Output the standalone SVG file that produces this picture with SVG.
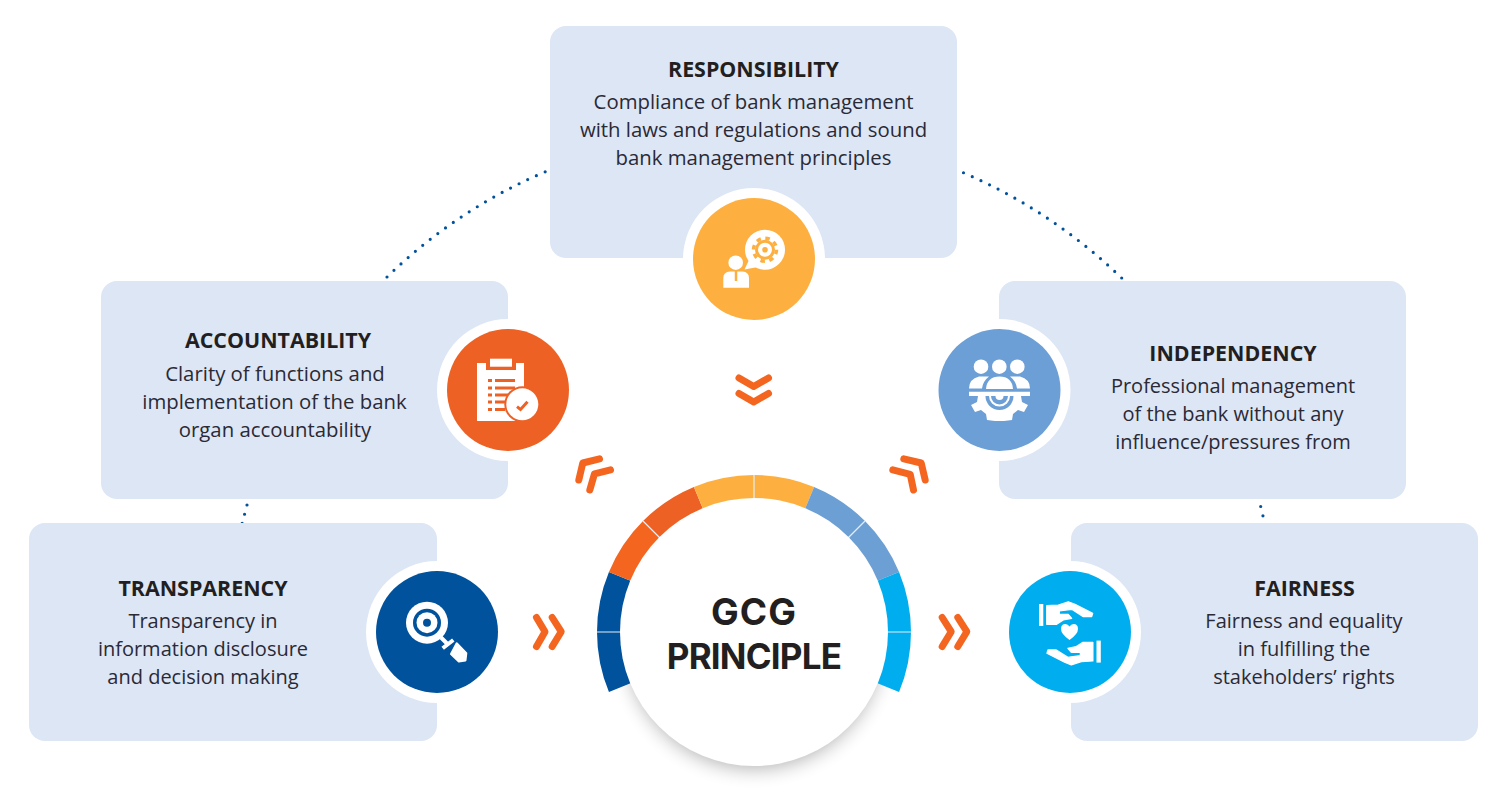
<svg xmlns="http://www.w3.org/2000/svg" width="1500" height="793" viewBox="0 0 1500 793">
<style>
.box{fill:#dde6f5}
.ring{fill:#fff}
.t{font-family:"Open Sans","Noto Sans",sans-serif;font-size:20px;fill:#2a2a36;text-anchor:middle}
.w2{font-size:20.35px}
.h{font-family:"Open Sans","Noto Sans",sans-serif;font-size:21.4px;font-weight:700;fill:#231f20;text-anchor:middle}
.g{font-family:Inter,"Liberation Sans",sans-serif;font-weight:700;fill:#231f20;text-anchor:middle}
.seg{fill:none;stroke-width:24}
.seam{stroke:#e6eef6;stroke-width:1.2}
.dots{fill:none;stroke:#00529c;stroke-width:3.2;stroke-linecap:round;stroke-dasharray:0 9.55}
.chev{fill:none;stroke:#f4661f;stroke-width:7;stroke-linecap:round;stroke-linejoin:round}
.w{fill:#fff}
</style>
<defs>
<filter id="sh" x="-30%" y="-30%" width="160%" height="160%"><feGaussianBlur stdDeviation="10"/></filter>
<polygon id="hand" points="1046.7,605.7 1058.3,605 1068.3,601.7 1075,604.3 1092.7,613.3 1091.7,616.7 1083.3,616.7 1071.7,609.3 1059.3,611 1059.3,614.3 1068.3,614.3 1071.7,618.3 1063.3,620 1056.7,624.3 1046.7,624.3" fill="#fff" stroke="#fff" stroke-width="1.2" stroke-linejoin="round"/>
</defs>

<g id="connectors">
<path class="dots" d="M387 277Q457 209 547 171"/>
<path class="dots" d="M1121.700 278Q1051 210 961.700 172"/>
<path class="dots" d="M247 505L242 524"/>
<path class="dots" d="M1260.700 506.500L1263 516"/>
<path class="chev" d="M739 378L753.700 386.500L768.500 378M739 393.500L753.700 402L768.500 393.500"/>
<path class="chev" d="M578.800 480L582.800 463L599.500 458.800M589.800 490L594.500 473.800L610.500 469.800"/>
<path class="chev" d="M903.800 458.800L921.200 463L925.200 480M892.800 469.800L910.200 474.300L913.500 490"/>
<path class="chev" d="M536.500 617.500L545 631.700L536.500 646.500M552.200 617.500L561.200 631.700L552.200 646.500"/>
<path class="chev" d="M942.200 617.500L951.200 631.700L942.200 646.500M957.800 617.500L966.800 631.700L957.800 646.500"/>
</g>

<g id="center">
<circle cx="754" cy="640" r="128" fill="#000" opacity=".32" filter="url(#sh)"/>
<path class="seg" stroke="#00529c" d="M620.040 687.490A145 145 0 0 1 609 632A145 145 0 0 1 620.040 576.510"/>
<path class="seg" stroke="#f4661f" d="M620.040 576.510A145 145 0 0 1 651.470 529.470"/>
<path class="seg" stroke="#ee6125" d="M651.470 529.470A145 145 0 0 1 698.510 498.040"/>
<path class="seg" stroke="#fdb040" d="M698.510 498.040A145 145 0 0 1 809.490 498.040"/>
<path class="seg" stroke="#6c9fd4" d="M809.490 498.040A145 145 0 0 1 887.960 576.510"/>
<path class="seg" stroke="#00aeef" d="M887.960 576.510A145 145 0 0 1 887.960 687.490"/>
<path class="seam" d="M597 632H621M887 632H911M754 475V499M643 521L660 538M865 521L848 538"/>
<circle cx="754" cy="632" r="134" fill="#fff"/>
<text class="g" x="754" y="625" font-size="37" letter-spacing="1">GCG</text>
<text class="g" x="754" y="669" font-size="35" letter-spacing="-0.8">PRINCIPLE</text>
</g>

<g id="responsibility">
<rect class="box" x="550" y="26" width="407" height="232" rx="16"/>
<circle class="ring" cx="754" cy="259" r="71"/>
<circle cx="754" cy="259" r="61" fill="#fdb040"/>
<text class="h" x="753.500" y="77">RESPONSIBILITY</text>
<text class="t w2" x="753.500" y="109">Compliance of bank management</text>
<text class="t w2" x="753.500" y="137">with laws and regulations and sound</text>
<text class="t w2" x="753.500" y="165">bank management principles</text>
<circle class="w" cx="765" cy="249.700" r="20"/>
<polygon class="w" points="750,258 744.500,269.500 758,267"/>
<circle cx="765" cy="249.700" r="11.500" fill="none" stroke="#fdb040" stroke-width="3.500" stroke-dasharray="4.500 4.530"/>
<circle cx="765" cy="249.700" r="8.500" fill="#fff" stroke="#fdb040" stroke-width="3"/>
<circle cx="765" cy="249.700" r="2.800" fill="#fdb040"/>
<circle class="w" cx="735.700" cy="262.700" r="7.300"/>
<path class="w" d="M723.300 287.700V278Q723.300 272 730 271.500H742.500Q749 272 749 278V287.700Z"/>
<path d="M736 271V281" stroke="#fdb040" stroke-width="2.500"/>
</g>

<g id="accountability">
<rect class="box" x="101" y="281" width="407" height="218" rx="16"/>
<circle class="ring" cx="508" cy="390" r="71"/>
<circle cx="508" cy="390" r="61" fill="#ee6125"/>
<text class="h" x="278" y="348">ACCOUNTABILITY</text>
<text class="t w2" x="275" y="381">Clarity of functions and</text>
<text class="t w2" x="274.500" y="409">implementation of the bank</text>
<text class="t w2" x="275" y="437">organ accountability</text>
<rect class="w" x="477" y="363" width="47" height="58"/>
<rect x="486" y="363" width="30" height="7" fill="#ee6125"/>
<rect class="w" x="490" y="358.700" width="22" height="8"/>
<path d="M488 380.500H492M495 380.500H515M488 388H492M495 388H515M488 395H492M495 395H515M488 402H492M495 402H510M488 409.500H492M495 409.500H505" stroke="#ee6125" stroke-width="3" fill="none"/>
<circle cx="522.300" cy="404.300" r="18" fill="#ee6125"/>
<circle class="w" cx="522.300" cy="404.300" r="16"/>
<path d="M517 406.700L520.500 409.500L527.500 401.800" fill="none" stroke="#ee6125" stroke-width="3"/>
</g>

<g id="independency">
<rect class="box" x="999" y="281" width="407" height="218" rx="16"/>
<circle class="ring" cx="999.500" cy="390" r="71"/>
<circle cx="999.500" cy="390" r="61" fill="#6c9fd6"/>
<text class="h" x="1233" y="361">INDEPENDENCY</text>
<text class="t" x="1233" y="393">Professional management</text>
<text class="t" x="1233" y="421">of the bank without any</text>
<text class="t" x="1233" y="449">influence/pressures from</text>
<circle class="w" cx="981" cy="366.700" r="7.300"/>
<circle class="w" cx="999.300" cy="366.700" r="7.300"/>
<circle class="w" cx="1017.300" cy="366.700" r="7.300"/>
<path class="w" d="M969 388.500Q969 379 979 376.500H989Q983 381 982 388.500ZM1030 388.500Q1030 379 1020 376.500H1010Q1016 381 1017 388.500ZM986 389Q987 376.500 999.500 376.500Q1012 376.500 1013 389Z"/>
<path class="w" d="M969 391.700H1030V396H1021L1022 402L1028 405L1024 412L1018 410L1013 414L1012 420L1004 421H995L987 420L986 414L981 410L975 412L971 405L977 402L978 396H969Z"/>
<path d="M985.500 396A14 14 0 0 0 1013.500 396Z" fill="#6c9fd6"/>
<path d="M990 396A9.500 9.500 0 0 0 1009 396" fill="none" stroke="#fff" stroke-width="2"/>
<path class="w" d="M995.500 396A4 4 0 0 0 1003.500 396Z"/>
</g>

<g id="transparency">
<rect class="box" x="29" y="523" width="408" height="218" rx="16"/>
<circle class="ring" cx="437" cy="632" r="71"/>
<circle cx="437" cy="632" r="61" fill="#00529c"/>
<text class="h" x="203" y="596">TRANSPARENCY</text>
<text class="t" x="203" y="628">Transparency in</text>
<text class="t" x="203" y="656">information disclosure</text>
<text class="t" x="203" y="684">and decision making</text>
<circle class="w" cx="427" cy="622.700" r="21"/>
<circle cx="427" cy="622.700" r="14" fill="#00529c"/>
<circle class="w" cx="427" cy="622.700" r="10.500"/>
<circle cx="427" cy="622.700" r="4" fill="#00529c"/>
<path d="M441 637.500L449 645.500M442.700 648.300L453.300 640" stroke="#fff" stroke-width="4" fill="none"/>
<polygon class="w" points="456.700,643.300 466.300,653.300 465.500,660.500 458.800,661.500 451,654" stroke="#fff" stroke-width="2" stroke-linejoin="round"/>
</g>

<g id="fairness">
<rect class="box" x="1071" y="523" width="407" height="218" rx="16"/>
<circle class="ring" cx="1070" cy="632" r="71"/>
<circle cx="1070" cy="632" r="61" fill="#00aeef"/>
<text class="h" x="1304.500" y="596">FAIRNESS</text>
<text class="t" x="1304" y="628">Fairness and equality</text>
<text class="t" x="1304" y="656">in fulfilling the</text>
<text class="t" x="1304" y="684">stakeholders’ rights</text>
<rect class="w" x="1039" y="604" width="4.300" height="22"/>
<use href="#hand"/>
<rect class="w" x="1096.500" y="640.600" width="4.300" height="22"/>
<use href="#hand" transform="rotate(180 1069.800 633.300)"/>
<path class="w" d="M1069.500 640Q1061 634 1061 629Q1061 624 1065.500 624Q1068 624 1069.500 626.500Q1071 624 1073.500 624Q1078 624 1078 629Q1078 634 1069.500 640Z"/>
</g>
</svg>
